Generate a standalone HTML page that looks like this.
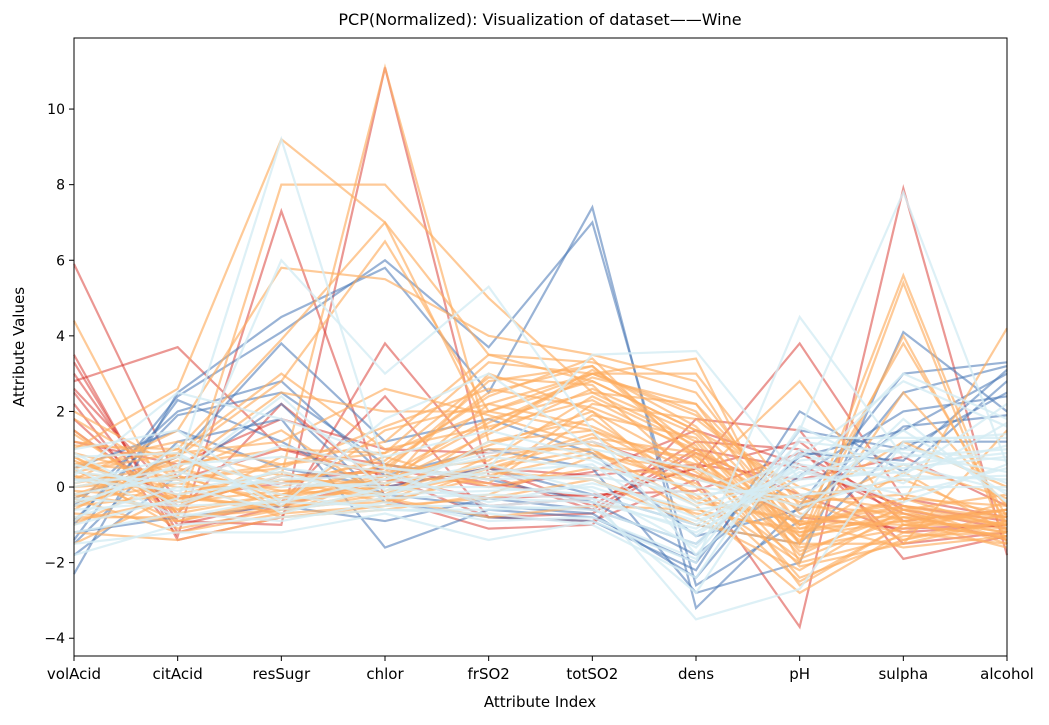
<!DOCTYPE html>
<html><head><meta charset="utf-8"><style>
body{margin:0;background:#fff;font-family:"Liberation Sans","DejaVu Sans",sans-serif;}
svg text{font-family:"DejaVu Sans","Liberation Sans",sans-serif;fill:#000;}
</style></head><body>
<svg id="chart" width="1049" height="720">
<text x="540" y="25" text-anchor="middle" font-size="16">PCP(Normalized): Visualization of dataset——Wine</text>
<g id="lines"></g>
<g id="axes"></g>
<text x="540" y="707" text-anchor="middle" font-size="15">Attribute Index</text>
<text transform="translate(24,347) rotate(-90)" text-anchor="middle" font-size="15">Attribute Values</text>
</svg>
<script>
const categories=["volAcid","citAcid","resSugr","chlor","frSO2","totSO2","dens","pH","sulpha","alcohol"];
const yTicks=[-4,-2,0,2,4,6,8,10];
const redLines=[
[5.9,0.2,1.0,0.6,0.1,-0.3,0.5,1.2,-0.9,-0.6],
[3.5,-1.4,-0.8,3.8,0.5,-0.5,1.2,1.0,-1.5,-1.2],
[2.8,3.7,1.0,0.3,-0.8,-0.9,0.2,-3.7,7.9,-1.8],
[2.2,-1.3,7.3,-0.3,-1.1,-1.0,1.8,1.5,-1.9,-1.3],
[3.0,-0.9,-1.0,11.1,0.3,-0.6,1.0,0.5,-0.5,-0.9],
[1.5,-0.5,0.3,0.4,-0.5,-0.3,0.5,3.8,-0.3,-0.8],
[2.5,-1.0,-0.4,2.4,-0.8,-0.7,0.9,-0.2,-1.2,-1.0],
[1.8,-0.7,2.2,0.0,0.5,0.3,0.6,0.2,0.8,-0.5],
[3.3,-1.2,-0.5,0.2,-0.3,-0.2,-0.1,0.9,-0.6,-1.1],
[2.6,-0.3,0.1,0.5,0.0,0.4,1.5,0.6,-0.7,-1.4],
[1.2,0.6,1.8,1.0,0.9,1.2,0.3,-0.8,-1.1,-1.0]];
const blueLines=[
[-2.3,2.5,4.5,5.8,2.5,7.4,-3.2,-0.5,3.0,3.3],
[-1.0,2.4,4.1,6.0,3.7,7.0,-2.6,-0.9,2.5,3.2],
[-1.5,1.2,1.8,-1.6,-0.6,-0.8,-2.0,1.5,1.0,2.5],
[-0.5,2.0,2.8,0.3,1.0,0.5,-2.8,-2.0,4.1,2.0],
[-1.2,-0.8,-0.5,-0.9,-0.3,-0.6,-1.5,0.8,1.5,3.0],
[0.5,1.5,0.5,0.0,0.5,-0.2,-1.0,-1.5,1.2,1.2],
[-1.8,0.3,2.2,-0.4,-0.8,-0.9,-2.2,2.0,0.4,2.8],
[-0.9,1.9,2.5,0.6,0.2,-0.4,-1.8,0.3,2.0,2.4],
[-0.3,0.8,3.8,1.2,1.8,0.9,-1.3,-0.6,1.6,1.9],
[-1.4,2.3,1.2,-0.2,-0.5,-0.7,-2.4,0.9,0.7,3.1]];
const orangeLines=[
[4.4,-0.8,8.0,8.0,5.0,2.5,2.2,-1.5,5.6,-1.2],
[1.0,2.6,9.2,7.0,1.5,3.0,3.4,-2.0,5.4,-1.5],
[0.5,1.0,3.9,7.0,3.5,3.3,2.5,-1.0,3.8,-0.8],
[-0.3,0.8,2.8,6.5,2.0,2.8,1.5,-1.5,2.5,-0.5],
[0.8,-0.5,0.3,11.1,1.2,1.5,0.2,2.8,-1.0,-1.0],
[0.2,0.3,-0.5,0.5,2.5,3.2,0.8,-1.2,-0.8,-1.2],
[-0.5,-0.2,-0.7,0.3,1.8,2.5,1.2,-1.8,-0.5,-1.0],
[0.0,0.5,-0.2,0.0,3.0,2.0,0.5,-0.8,-0.8,-0.8],
[-0.8,-0.8,-0.6,-0.2,1.2,1.8,0.0,-2.5,-1.0,-1.3],
[1.2,0.8,-0.4,1.5,2.2,3.0,2.0,-1.0,-0.3,-0.5],
[-1.2,-1.4,-0.8,-0.5,0.5,1.0,-0.5,-2.8,-1.2,-1.5],
[0.4,0.0,0.0,0.8,0.0,0.5,0.3,-0.5,-0.7,-1.0],
[-0.5,0.4,1.5,-0.3,-0.8,-0.5,-0.6,-1.2,-0.5,-0.8],
[0.6,1.2,0.6,1.2,3.5,2.8,1.5,0.0,-0.9,-0.6],
[-0.9,-0.3,-0.5,-0.4,0.8,1.2,-0.2,-2.0,-1.3,-1.2],
[1.5,-0.6,-0.2,0.6,0.2,2.2,1.8,-0.3,0.2,-0.9],
[0.2,1.5,5.8,5.5,4.0,3.5,2.8,-1.5,4.0,-1.0],
[-0.2,-0.6,0.8,0.4,2.8,3.2,1.0,-1.0,-0.5,-1.4],
[0.9,0.2,-0.8,-0.6,-0.2,0.8,0.5,-1.6,-1.1,-0.6],
[-0.6,0.9,3.0,1.0,1.6,2.3,0.9,-0.6,0.6,-0.3],
[0.3,-0.9,-0.3,0.2,1.0,1.0,-0.8,-2.2,-0.6,-1.5],
[2.0,0.5,2.5,2.0,2.0,3.0,3.0,-0.5,1.2,0.0],
[-1.5,-0.2,0.4,-0.2,0.4,0.2,-1.0,-1.5,-1.5,1.5],
[0.1,0.6,1.0,0.9,2.0,1.5,0.6,-1.0,-0.4,4.2],
[0.7,-0.4,0.2,0.1,1.4,2.6,1.4,-1.3,-0.9,-1.1],
[-0.4,0.1,-0.3,0.6,2.4,3.4,0.7,-2.4,-1.4,-0.9],
[0.5,-1.1,-0.6,-0.1,0.6,1.4,-0.3,-0.9,-1.6,-1.3],
[1.8,0.2,0.5,1.6,2.6,2.1,1.0,-0.4,-0.2,-0.7],
[-0.1,-0.3,0.2,-0.4,0.3,0.9,0.1,-1.9,-0.8,-1.2],
[0.6,0.4,-0.1,0.2,1.7,2.9,2.2,-0.7,-1.2,-0.4],
[-0.7,-0.9,-0.4,0.0,2.2,1.6,0.4,-1.4,-0.6,-1.0],
[1.1,1.0,0.3,0.4,0.7,2.4,1.1,-2.6,-1.0,-1.3],
[0.3,-0.2,-0.6,-0.3,1.5,3.1,1.6,-1.1,-0.3,-1.1],
[-0.2,0.7,0.1,0.7,2.9,2.7,0.2,-0.3,-1.4,-0.7],
[0.8,-0.7,-0.2,0.3,0.1,1.9,1.3,-1.7,-0.7,-1.4],
[-1.0,0.3,-0.5,0.1,1.1,2.0,-0.4,-0.9,-1.0,-0.6],
[0.4,0.9,1.2,2.6,1.9,1.1,0.8,-1.3,0.4,-1.2],
[1.4,-0.4,-0.1,-0.2,0.5,1.3,0.9,-2.1,-1.5,-0.9],
[-0.3,-1.2,-0.7,-0.5,-0.3,0.2,-0.7,-1.1,-0.9,-1.6],
[0.0,0.2,0.6,0.9,3.3,3.0,1.9,-0.2,-0.6,-0.2]];
const lightLines=[
[0.0,0.5,9.2,0.5,0.3,0.2,-0.8,0.5,0.5,0.8],
[-1.0,-0.3,6.0,3.0,5.3,1.5,-1.8,1.5,7.8,0.6],
[-0.5,0.6,0.8,0.4,-0.5,-0.3,-3.5,-2.7,1.2,1.4],
[0.5,-0.8,-0.3,-0.2,0.5,3.5,3.6,0.2,3.0,1.8],
[-1.5,-1.2,-1.2,-0.7,-1.4,-0.9,-2.0,4.5,0.8,1.0],
[0.2,0.2,0.1,0.0,0.0,-0.2,-1.0,0.6,0.2,0.3],
[-0.3,-0.5,-0.4,-0.5,-0.5,-0.6,-1.5,1.0,0.6,0.9],
[1.0,1.5,-0.4,0.2,0.8,0.5,0.0,-0.3,1.5,-0.2],
[-0.8,0.0,-0.6,-0.3,-0.2,-0.3,-1.2,0.4,-0.2,0.5],
[0.3,2.5,1.8,0.8,1.5,0.8,-0.4,0.8,2.8,1.6],
[-1.8,-1.0,-0.8,-0.6,-0.7,-1.0,-2.4,1.6,0.3,2.2],
[0.6,-0.2,0.2,0.3,-0.4,0.1,-0.6,-0.2,0.0,0.0],
[-0.2,0.3,2.4,-0.1,0.4,0.6,-1.3,0.7,1.0,0.7],
[0.8,0.9,-0.5,1.8,3.0,1.0,0.5,-0.8,1.8,-0.4],
[-0.6,-0.4,0.3,-0.2,-0.1,0.0,-0.9,0.2,0.4,1.1],
[0.1,0.8,0.0,0.1,0.6,-0.1,-1.6,1.2,0.9,0.4],
[-1.2,-0.7,-0.9,-0.4,-0.9,-0.8,-1.9,0.9,0.1,1.7],
[0.4,0.1,1.1,0.5,0.2,0.3,-0.2,0.0,0.6,-0.1],
[-0.4,0.4,-0.2,-0.6,-0.6,-0.5,-2.8,1.3,1.3,1.3],
[0.9,-0.5,0.5,0.2,0.9,1.2,0.2,-0.5,0.3,0.2],
[-0.9,1.1,-0.7,0.0,-0.3,-0.4,-1.1,0.5,-0.4,0.6],
[0.2,-0.1,0.4,-0.3,1.2,0.7,-0.5,0.3,1.1,0.1]];

const NS="http://www.w3.org/2000/svg";
const X0=74,X1=1007,YT=38,YB=656,YMIN=-4.47,YMAX=11.88;
const xs=i=>X0+i*(X1-X0)/(categories.length-1);
const ys=v=>YB-(v-YMIN)/(YMAX-YMIN)*(YB-YT);
const lg=document.getElementById('lines');
function drawGroup(arr,color,op,name){
  arr.forEach(row=>{
    const p=document.createElementNS(NS,'polyline');
    p.setAttribute('points',row.map((v,i)=>xs(i)+','+ys(v)).join(' '));
    p.setAttribute('fill','none');p.setAttribute('stroke',color);
    p.setAttribute('stroke-width','2.2');p.setAttribute('stroke-opacity',op);
    
    
    lg.appendChild(p);
  });
}
drawGroup(redLines,'#d73027',0.5,'red-series-line');
drawGroup(blueLines,'#4575b4',0.55,'blue-series-line');
drawGroup(orangeLines,'#fdae61',0.65,'orange-series-line');
drawGroup(lightLines,'#d4ecf4',0.8,'lightblue-series-line');

const ax=document.getElementById('axes');
const fr=document.createElementNS(NS,'rect');
fr.setAttribute('x',X0);fr.setAttribute('y',YT);fr.setAttribute('width',X1-X0);fr.setAttribute('height',YB-YT);
fr.setAttribute('fill','none');fr.setAttribute('stroke','#000');fr.setAttribute('stroke-width','1');


ax.appendChild(fr);
yTicks.forEach(t=>{
  const y=ys(t);
  const l=document.createElementNS(NS,'line');
  l.setAttribute('x1',X0-5);l.setAttribute('x2',X0);l.setAttribute('y1',y);l.setAttribute('y2',y);l.setAttribute('stroke','#000');
  
  
  ax.appendChild(l);
  const tx=document.createElementNS(NS,'text');
  tx.setAttribute('x',X0-9);tx.setAttribute('y',y+5);tx.setAttribute('text-anchor','end');tx.setAttribute('font-size','14');
  tx.textContent=(t<0?'\u2212'+(-t):t);
  
  
  ax.appendChild(tx);
});
categories.forEach((c,i)=>{
  const x=xs(i);
  const l=document.createElementNS(NS,'line');
  l.setAttribute('x1',x);l.setAttribute('x2',x);l.setAttribute('y1',YB);l.setAttribute('y2',YB+5);l.setAttribute('stroke','#000');
  
  
  ax.appendChild(l);
  const tx=document.createElementNS(NS,'text');
  tx.setAttribute('x',x);tx.setAttribute('y',YB+23);tx.setAttribute('text-anchor','middle');tx.setAttribute('font-size','15');
  tx.textContent=c;
  
  
  ax.appendChild(tx);
});
</script>
</body></html>
